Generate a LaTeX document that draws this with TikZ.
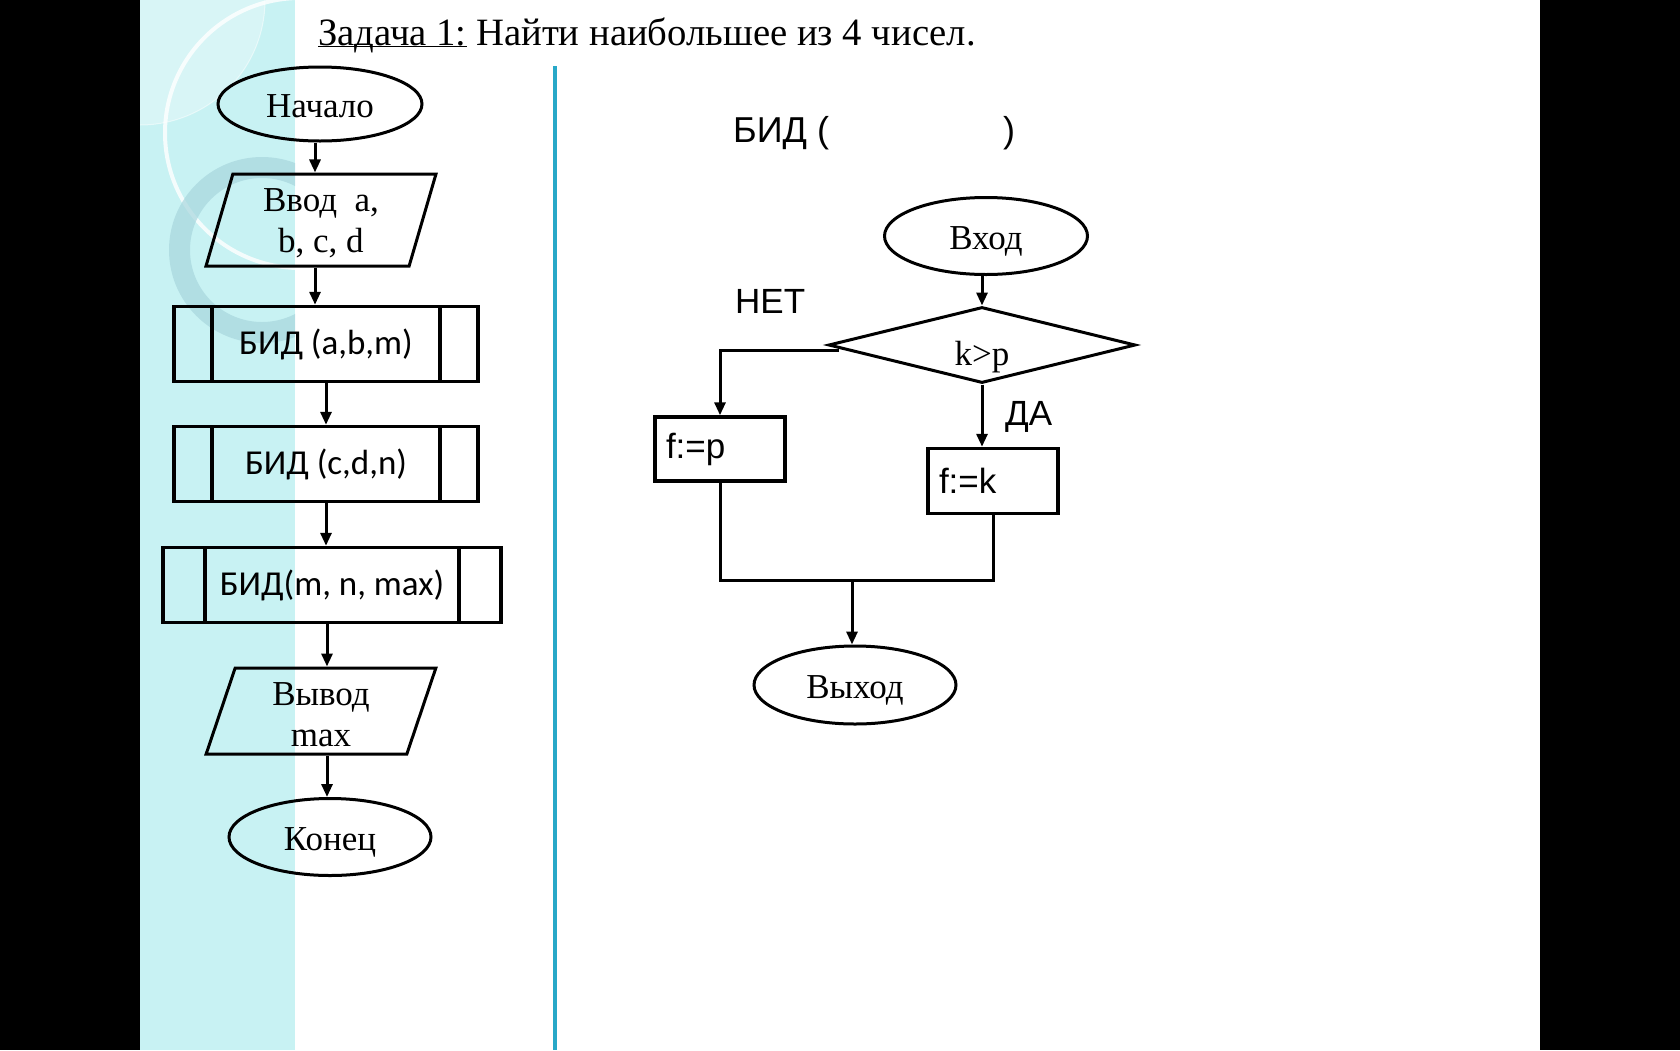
\documentclass[tikz,border=0pt]{standalone}
\usepackage{fontspec}
\setmainfont{Liberation Serif}
\newfontfamily\arialf{Liberation Sans}
\newfontfamily\calibrif{Carlito}
\usetikzlibrary{shapes.geometric,arrows.meta,calc}
\definecolor{fondcyan}{RGB}{200,242,243}
\definecolor{anneau}{RGB}{168,214,221}
\definecolor{trait}{RGB}{40,168,200}
\tikzset{
    terminal/.style={draw,line width=3pt,ellipse,inner sep=0pt,text height=27pt,text depth=0pt,
      font=\fontsize{35}{41}\selectfont},
    entree/.style={draw,line width=3pt,trapezium,trapezium left angle=77,trapezium right angle=103,
      trapezium stretches=true,inner sep=0pt,align=center,font=\fontsize{35}{41}\selectfont},
    sousprog/.style 2 args={draw,line width=3.5pt,rectangle,minimum width=#1,minimum height=75pt,inner sep=0pt,
      font=\calibrif\fontsize{35}{40}\selectfont,
      path picture={
        \draw[line width=3.5pt] ([xshift=#2]path picture bounding box.north west) -- ([xshift=#2]path picture bounding box.south west);
        \draw[line width=3.5pt] ([xshift=-#2]path picture bounding box.north east) -- ([xshift=-#2]path picture bounding box.south east);
      }},
    bloc/.style={draw,line width=3.5pt,rectangle,minimum width=130pt,inner sep=0pt,
      text width=108pt,align=left,font=\arialf\fontsize{35}{40}\selectfont},
    losange/.style={draw,line width=3pt,diamond,aspect=4,minimum width=307pt,minimum height=76pt,
      inner sep=0pt,text height=40pt,text depth=0pt,font=\fontsize{35}{41}\selectfont},
    etiq/.style={anchor=base west,inner sep=0pt,font=\arialf\fontsize{35}{40}\selectfont},
    fleche/.style={line width=3pt,-{Triangle[length=13pt,width=11pt]}},
    lien/.style={line width=3pt},
  }
\begin{document}
\begin{tikzpicture}[x=1pt,y=-1pt]
			  \useasboundingbox (0,0) rectangle (1680,1050);
			  %FOND
			  \fill[black] (0,0) rectangle (1680,1050);
			  \fill[white] (140,0) rectangle (1540,1050);
			  \fill[fondcyan] (140,0) rectangle (295,1050);
			  \begin{scope}
			    \clip (140,0) rectangle (295,1050);
			    \fill[white,opacity=.3] (140,0) circle[radius=125pt];
			    \draw[white,opacity=.5,line width=1pt] (140,0) circle[radius=125pt];
			    \draw[white,opacity=.8,line width=4pt] (300,133) circle[radius=135pt];
			    \fill[anneau,opacity=.7,even odd rule] (262,250) circle[radius=93pt] (262,250) circle[radius=72pt];
			  \end{scope}
			  \draw[trait,line width=4pt] (555,66) -- (555,1050);
			  
			  %TITRE
			  \node[anchor=base west,inner sep=0pt,font=\fontsize{38.7}{44}\selectfont] (titre) at (318,45)
			    {\underline{\smash{Задача 1:}} Найти наибольшее из 4 чисел.};
			  
			  %PROGRAMME PRINCIPAL
			  \node[terminal,minimum width=204pt,minimum height=74pt] (debut) at (320,104) {Начало};
			  \node[entree,minimum width=230pt,minimum height=92pt] (entree) at (321,220) {\rule{0pt}{30pt}Ввод\ \ a,\\b, c, d};
			  \node[sousprog={304pt}{38pt}] (bid1) at (326,344) {БИД (a,b,m)};
			  \node[sousprog={304pt}{38pt}] (bid2) at (326,464) {БИД (c,d,n)};
			  \node[sousprog={338pt}{42pt}] (bid3) at (332,585) {БИД(m, n, max)};
			  \node[entree,minimum width=230pt,minimum height=86pt] (sortie) at (321,711) {\rule{0pt}{30pt}Вывод\\max};
			  \node[terminal,minimum width=202pt,minimum height=77pt] (fin) at (330,837) {Конец};
			  
			  \draw[fleche] ([xshift=-5pt]debut.south) -- ([xshift=-5pt]debut.south |- entree.north);
			  \draw[fleche] ([xshift=-6pt]entree.south) -- ([xshift=-6pt]entree.south |- bid1.north);
			  \draw[fleche] (bid1.south) -- (bid1.south |- bid2.north);
			  \draw[fleche] (bid2.south) -- (bid2.south |- bid3.north);
			  \draw[fleche] ([xshift=-5pt]bid3.south) -- ([xshift=-5pt]bid3.south |- sortie.north);
			  \draw[fleche] ([xshift=6pt]sortie.south) -- ([xshift=6pt]sortie.south |- fin.north);
			  
			  %SOUS-PROGRAMME BID
			  \node[anchor=base west,inner sep=0pt,font=\arialf\fontsize{36}{40}\selectfont] (entete) at (733,142)
			    {БИД (\hspace{174pt})};
			  \node[terminal,minimum width=203pt,minimum height=77pt] (entree2) at (986,236) {Вход};
			  \node[losange] (test) at (982,345) {k>p};
			  \node[bloc,minimum height=64pt] (fp) at (720,449) {f:=p};
			  \node[bloc,minimum height=65pt] (fk) at (993,481) {f:=k};
			  \node[terminal,minimum width=202pt,minimum height=78pt] (sortie2) at (855,685) {Выход};
			  \coordinate (jonction) at (852,580);
			  
			  \node[etiq] (non) at (735,313) {НЕТ};
			  \node[etiq] (oui) at (1005,425) {ДА};
			  
			  \draw[fleche] (test.north |- entree2.south) -- (test.north);
			  \draw[fleche] ([shift={(12,5)}]test.west) -| (fp.north);
			  \draw[fleche] (test.south) -- (test.south |- fk.north);
			  \draw[lien] (fp.south) |- (jonction) -| (fk.south);
			  \draw[fleche] (jonction) -- (jonction |- sortie2.north);
\end{tikzpicture}
\end{document}
